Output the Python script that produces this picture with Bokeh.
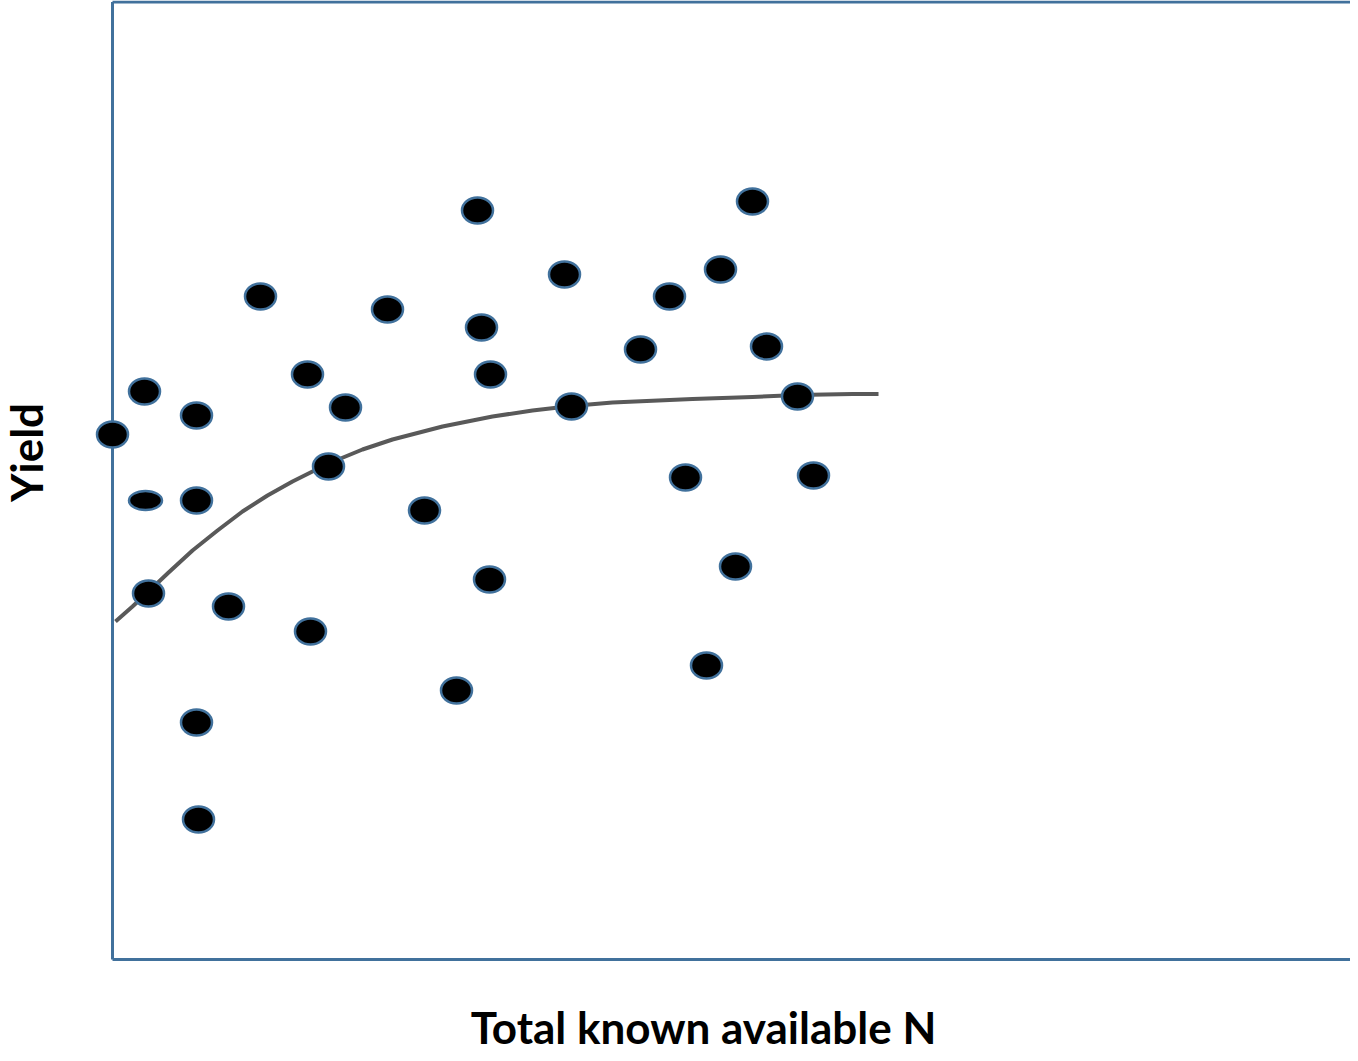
import math
from bokeh.plotting import figure
from bokeh.models import Range1d, Label, ColumnDataSource
from bokeh.embed import file_html
from bokeh.resources import INLINE

# ---- data (arbitrary units) ----
n_vals = [0.0, 3.2, 8.4, 3.3, 8.4, 3.6, 11.6, 8.4, 8.6, 14.8, 19.5, 23.3, 21.6, 19.8,
          27.5, 31.2, 34.4, 36.5, 36.9, 37.8, 37.7, 45.2, 45.9, 52.8, 55.7, 60.8,
          64.0, 65.4, 68.5, 57.3, 70.1, 62.3, 59.4]
yield_vals = [52.5, 56.8, 54.4, 45.9, 45.9, 36.6, 35.3, 23.7, 14.0, 66.3, 58.5, 55.2,
              49.3, 32.8, 65.0, 44.9, 26.9, 74.9, 63.2, 58.5, 38.0, 68.5, 55.3, 61.0,
              66.3, 69.0, 75.8, 61.3, 56.3, 48.2, 48.4, 39.3, 29.4]
flat_index = 3

curve_n = [0.3, 2.0, 3.5, 5.5, 8.0, 10.5, 13.0, 15.5, 18.0, 21.6, 25.0, 28.0, 33.0,
           38.0, 42.0, 45.9, 50.0, 58.0, 64.0, 68.5, 74.0, 76.6]
curve_yield = [33.8, 35.3, 36.7, 38.6, 40.9, 42.9, 44.8, 46.4, 47.8, 49.6, 51.0, 52.0,
               53.3, 54.3, 54.9, 55.35, 55.7, 56.05, 56.25, 56.45, 56.55, 56.55]

x_label = "Total known available N"
y_label = "Yield"

# frame extents (data units)
X_MAX = 123.8
Y_MAX = 95.75

BLUE = "#41719C"

p = figure(width=1350, height=1053, output_backend="svg", toolbar_location=None,
           x_range=Range1d(-11.2, 123.8), y_range=Range1d(-9.4, 95.9),
           min_border=0, min_border_left=0, min_border_right=0,
           min_border_top=0, min_border_bottom=0)
p.axis.visible = False
p.grid.visible = False
p.outline_line_color = None
p.background_fill_color = "white"
p.border_fill_color = "white"

# chart frame (left, top, bottom border lines)
p.segment(x0=[0, 0, 0], y0=[0, Y_MAX, 0], x1=[0, X_MAX, X_MAX], y1=[Y_MAX, Y_MAX, 0],
          line_color=BLUE, line_width=3)

# trend curve
p.line(curve_n, curve_yield, line_color="#595959", line_width=4, line_join="round")

# points
reg = [i for i in range(len(n_vals)) if i != flat_index]
src = ColumnDataSource(dict(x=[n_vals[i] for i in reg], y=[yield_vals[i] for i in reg]))
p.ellipse(x="x", y="y", width=3.1, height=2.6, source=src,
          fill_color="black", line_color=BLUE, line_width=2.5)
p.ellipse(x=[n_vals[flat_index]], y=[yield_vals[flat_index]], width=3.3, height=1.9,
          fill_color="black", line_color=BLUE, line_width=2.5)

# axis titles
p.add_layout(Label(x=59.1, y=-6.75, text=x_label, text_align="center",
                   text_baseline="alphabetic", text_font="Lato", text_font_style="bold",
                   text_font_size="44px", text_color="black"))
p.add_layout(Label(x=-8.65, y=50.7, text=y_label, text_align="center", angle=math.pi / 2,
                   text_baseline="alphabetic", text_font="Lato", text_font_style="bold",
                   text_font_size="44px", text_color="black"))

open("out.html", "w").write(file_html(p, INLINE))
